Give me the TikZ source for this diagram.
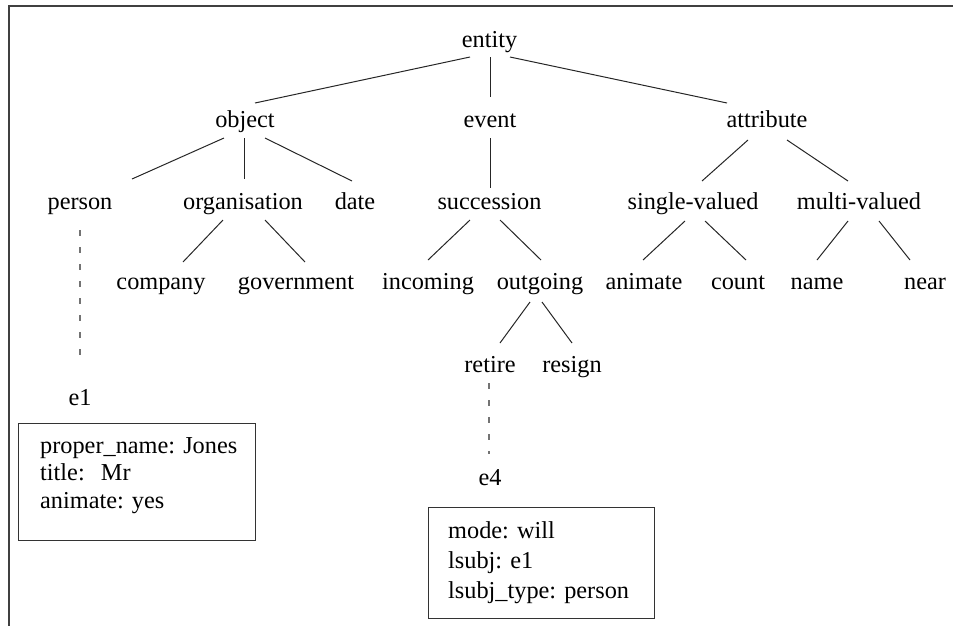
\documentclass[tikz,border=0pt]{standalone}
\usepackage{fontspec}
\setmainfont{Liberation Serif}
\usetikzlibrary{calc}
\frenchspacing
\tikzset{
  lbl/.style={anchor=base, inner sep=0pt, font=\fontsize{24.3pt}{29pt}\selectfont},
  edge/.style={draw=black!85, line width=1pt},
  dashedge/.style={draw=black!55, line width=1.3pt, dash pattern=on 6pt off 11pt},
  attrbox/.style={draw=black!80, line width=1.2pt, anchor=north west, inner sep=0pt},
  attrtext/.style={anchor=base west, inner sep=0pt, align=left, text width=#1},
  frameline/.style={draw=black!75, line width=2pt}
}
\begin{document}
\begin{tikzpicture}[x=1pt, y=-1pt]
\useasboundingbox (0,0) rectangle (953,625);
\coordinate (fbl) at (9,626);
\coordinate (ftl) at (9,6);
\coordinate (ftr) at (954,6);
\draw[frameline] (fbl) -- (ftl) -- (ftr);

% row 1
\node[lbl] (entity) at (489.5,47) {entity};
% row 2
\node[lbl] (object) at (245,127) {object};
\node[lbl] (event) at (490,127) {event};
\node[lbl] (attribute) at (767,127) {attribute};
% row 3
\node[lbl] (person) at (80,209) {person};
\node[lbl] (organisation) at (243,209) {organisation};
\node[lbl] (date) at (355,209) {date};
\node[lbl] (succession) at (489.5,209) {succession};
\node[lbl] (single) at (693,209) {single-valued};
\node[lbl] (multi) at (859,209) {multi-valued};
% row 4
\node[lbl] (company) at (161,289) {company};
\node[lbl] (government) at (296,289) {government};
\node[lbl] (incoming) at (428,289) {incoming};
\node[lbl] (outgoing) at (540,289) {outgoing};
\node[lbl] (animate) at (644,289) {animate};
\node[lbl] (count) at (738,289) {count};
\node[lbl] (name) at (817,289) {name};
\node[lbl] (near) at (925,289) {near};
% row 5
\node[lbl] (retire) at (490,372) {retire};
\node[lbl] (resign) at (572,372) {resign};
% instances
\node[lbl] (e1) at (80,405) {e1};
\node[lbl] (e4) at (490,485) {e4};

% tree edges
\draw[edge] ($(entity.base)+(-19.5,10)$) -- ($(object.base)+(10,-24)$);
\draw[edge] ($(entity.base)+(0.5,10)$) -- ($(event.base)+(0,-30)$);
\draw[edge] ($(entity.base)+(20.5,10)$) -- ($(attribute.base)+(-40,-24)$);

\draw[edge] ($(object.base)+(-21,11)$) -- ($(person.base)+(52,-30)$);
\draw[edge] ($(object.base)+(-1,11)$) -- ($(organisation.base)+(1,-30)$);
\draw[edge] ($(object.base)+(20,11)$) -- ($(date.base)+(-3,-28)$);
\draw[edge] ($(event.base)+(0,11)$) -- ($(succession.base)+(0.5,-21)$);
\draw[edge] ($(attribute.base)+(-19,13)$) -- ($(single.base)+(9,-28)$);
\draw[edge] ($(attribute.base)+(20,13)$) -- ($(multi.base)+(-11,-28)$);

\draw[edge] ($(organisation.base)+(-20,11)$) -- ($(company.base)+(22,-27)$);
\draw[edge] ($(organisation.base)+(22,11)$) -- ($(government.base)+(9,-27)$);
\draw[edge] ($(succession.base)+(-19.5,11)$) -- ($(incoming.base)+(0,-29)$);
\draw[edge] ($(succession.base)+(10.5,11)$) -- ($(outgoing.base)+(1,-29)$);
\draw[edge] ($(single.base)+(-8,12)$) -- ($(animate.base)+(-1,-29)$);
\draw[edge] ($(single.base)+(12,12)$) -- ($(count.base)+(8,-29)$);
\draw[edge] ($(multi.base)+(-11,12)$) -- ($(name.base)+(0,-29)$);
\draw[edge] ($(multi.base)+(20,12)$) -- ($(near.base)+(-15,-29)$);

\draw[edge] ($(outgoing.base)+(-10,13)$) -- ($(retire.base)+(10,-29)$);
\draw[edge] ($(outgoing.base)+(2,13)$) -- ($(resign.base)+(0,-29)$);

% instance links
\draw[dashedge] ($(person.base)+(0,21)$) -- ($(e1.base)+(0,-46)$);
\draw[dashedge] ($(retire.base)+(-1,11)$) -- ($(e4.base)+(-1,-31)$);

% attribute boxes
\node[attrbox, minimum width=237pt, minimum height=117pt] (box1) at (18,423) {};
\node[attrtext=215pt, font=\fontsize{24.3pt}{27.5pt}\selectfont] (box1text) at ($(box1.north west)+(22,30)$)
  {proper\_name: Jones\\title:~~Mr\\animate: yes};

\node[attrbox, minimum width=226pt, minimum height=111pt] (box2) at (428,507) {};
\node[attrtext=200pt, font=\fontsize{24.3pt}{30pt}\selectfont] (box2text) at ($(box2.north west)+(20,31)$)
  {mode: will\\lsubj: e1\\lsubj\_type: person};
\end{tikzpicture}
\end{document}
